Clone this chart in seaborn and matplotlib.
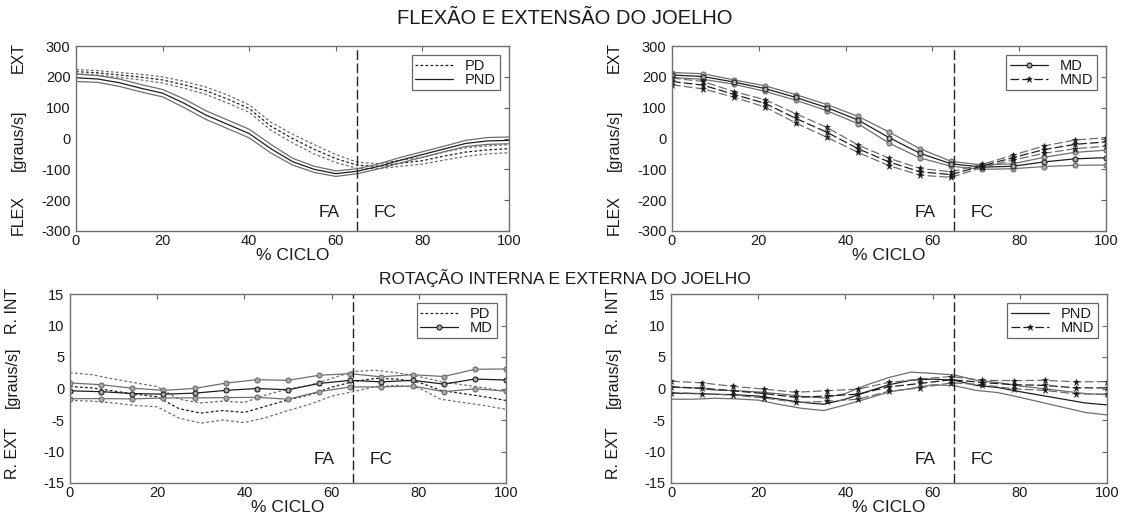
import numpy as np
import matplotlib
matplotlib.use("Agg")
import matplotlib.pyplot as plt
import matplotlib.transforms as mtransforms
from matplotlib.lines import Line2D
import seaborn as sns

# ---------------------------------------------------------------------------
# Data: knee angular velocity over the gait cycle (mean and standard deviation)
# ---------------------------------------------------------------------------
cycle_5 = [0, 5, 10, 15, 20, 25, 30, 35, 40, 45, 50,
           55, 60, 65, 70, 75, 80, 85, 90, 95, 100]
cycle_mk = [0, 7.14, 14.29, 21.43, 28.57, 35.71, 42.86, 50,
            57.14, 64.29, 71.43, 78.57, 85.71, 92.86, 100]

# Flexion / extension (graus/s)
fe_pd_mean = [217, 213, 206, 199, 190, 174, 155, 128, 97, 40, 0,
              -35, -65, -87, -90, -80, -72, -57, -44, -37, -33]
fe_pd_sd = [7, 7, 8, 9, 10, 11, 12, 13, 12, 13, 14,
            15, 13, 10, 8, 10, 11, 13, 14, 13, 13]
fe_pnd_mean = [197, 193, 181, 163, 147, 114, 76, 46, 16, -33, -75,
               -100, -114, -106, -90, -70, -52, -34, -16, -8, -6]
fe_pnd_sd = [12, 11, 12, 12, 12, 14, 14, 14, 14, 14, 11,
             10, 9, 8, 8, 9, 9, 9, 10, 11, 11]
fe_md_mean = [206, 201, 183, 162, 133, 100, 60, 3, -48, -82, -93, -90, -76, -66, -62]
fe_md_sd = [8, 9, 7, 9, 9, 10, 12, 18, 15, 8, 7, 8, 15, 21, 24]
fe_mnd_mean = [185, 173, 143, 114, 65, 20, -33, -76, -108, -117, -89, -62, -36, -19, -11]
fe_mnd_sd = [11, 12, 9, 12, 15, 16, 12, 12, 11, 9, 5, 8, 12, 14, 14]

# Internal / external rotation (graus/s)
rot_pd_mean = [0.3, 0.1, -0.4, -0.9, -1.3, -3.2, -3.9, -3.5, -3.8, -2.8, -1.8,
               -1.0, 0.2, 1.1, 1.6, 1.5, 1.0, -0.3, -0.8, -1.3, -1.9]
rot_pd_sd = [2.2, 2.1, 1.9, 1.8, 1.6, 1.5, 1.6, 1.5, 1.6, 1.8, 1.7,
             1.5, 1.4, 1.6, 1.3, 1.0, 0.9, 1.4, 1.4, 1.4, 1.4]
rot_md_mean = [-0.37, -0.5, -0.8, -0.9, -0.74, -0.3, 0.0, -0.2,
               0.8, 1.3, 1.05, 1.3, 0.7, 1.5, 1.35]
rot_md_sd = [1.25, 1.1, 0.85, 0.6, 0.75, 1.15, 1.4, 1.5,
             1.3, 1.05, 0.8, 0.9, 1.2, 1.55, 1.75]
rot_pnd_mean = [-0.75, -0.8, -0.9, -1.0, -1.2, -1.7, -2.2, -2.5, -1.7, -0.5, 0.6,
                1.3, 1.5, 1.3, 0.5, 0.15, -0.5, -1.1, -1.7, -2.3, -2.6]
rot_pnd_sd = [0.95, 0.9, 0.65, 0.65, 0.65, 0.85, 0.95, 1.0, 0.9, 1.1, 1.15,
              1.3, 0.9, 0.85, 0.8, 0.8, 0.9, 1.1, 1.3, 1.5, 1.6]
rot_mnd_mean = [0.26, 0.05, -0.37, -0.8, -1.4, -1.2, -0.9, 0.26,
                0.8, 1.4, 0.95, 0.6, 0.5, 0.1, 0.1]
rot_mnd_sd = [0.9, 0.85, 0.7, 0.7, 0.8, 0.85, 0.8, 0.7,
              0.7, 0.5, 0.35, 0.65, 0.8, 0.95, 1.0]

x_ticks = [0, 20, 40, 60, 80, 100]
fe_ticks = [-300, -200, -100, 0, 100, 200, 300]
rot_ticks = [-15, -10, -5, 0, 5, 10, 15]
phase_split = 65
phase_labels = ["FA", "FC"]

title_fe = "FLEXÃO E EXTENSÃO DO JOELHO"
title_rot = "ROTAÇÃO INTERNA E EXTERNA DO JOELHO"
x_label = "% CICLO"
unit_label = "[graus/s]"

# ---------------------------------------------------------------------------
# Style
# ---------------------------------------------------------------------------
sns.set_theme(style="white")
plt.rcParams["font.family"] = ["Liberation Sans", "DejaVu Sans"]
plt.rcParams["axes.unicode_minus"] = False
plt.rcParams["axes.edgecolor"] = "#707070"
plt.rcParams["axes.linewidth"] = 1.0
plt.rcParams["xtick.direction"] = "in"
plt.rcParams["ytick.direction"] = "in"
plt.rcParams["xtick.color"] = "#606060"
plt.rcParams["ytick.color"] = "#606060"

TXT = "#1a1a1a"
DARK = "#1e1e1e"
GREY = "#6e6e6e"

STYLES = {
    "PD": dict(linestyle=(0, (2.2, 1.8)), marker=None),
    "PND": dict(linestyle="-", marker=None),
    "MD": dict(linestyle="-", marker="o", markersize=3.6,
               markerfacecolor="#a8a8a8", markeredgewidth=0.8),
    "MND": dict(linestyle=(0, (7, 2.5)), marker="*", markersize=5.0,
                markerfacecolor="#111111", markeredgewidth=0.4),
}


def draw_group(ax, x, mean, sd, name):
    """Mean curve with the +/- one standard deviation curves."""
    m = np.asarray(mean, dtype=float)
    s = np.asarray(sd, dtype=float)
    st = dict(STYLES[name])
    for y, col in ((m + s, GREY), (m - s, GREY), (m, DARK)):
        kw = dict(st)
        if kw.get("marker") is None:
            kw = {k: v for k, v in kw.items() if not k.startswith("marker")}
        else:
            kw["markeredgecolor"] = col if name == "MD" else DARK
        sns.lineplot(x=x, y=y, ax=ax, color=col, linewidth=0.9,
                     estimator=None, sort=False, legend=False, **kw)


def legend_handle(name):
    st = dict(STYLES[name])
    if st.get("marker") is None:
        st = {k: v for k, v in st.items() if not k.startswith("marker")}
    else:
        st["markeredgecolor"] = DARK
    return Line2D([], [], color=DARK, linewidth=0.9, **st)


def decorate(ax, ylim, yticks, top_txt, bottom_txt, mid_y, top_y, bot_y,
             phase_y, legend_names):
    ax.set_xlim(0, 100)
    ax.set_ylim(*ylim)
    ax.set_xticks(x_ticks)
    ax.set_yticks(yticks)
    ax.tick_params(axis="both", which="both", top=True, right=True,
                   length=3.5, width=0.8, labelsize=10.5, labelcolor=TXT)
    ax.tick_params(axis="y", pad=4)
    ax.tick_params(axis="x", pad=2)
    ax.set_xlabel(x_label, fontsize=12.5, color=TXT, labelpad=0)
    ax.set_ylabel("")
    ax.axvline(phase_split, color="#222222", linewidth=1.0,
               linestyle=(0, (7, 2.5)))
    ax.text(58.4, phase_y, phase_labels[0], ha="center", va="center",
            fontsize=12.5, color=TXT)
    ax.text(71.4, phase_y, phase_labels[1], ha="center", va="center",
            fontsize=12.5, color=TXT)
    tr = mtransforms.blended_transform_factory(ax.transAxes, ax.transData)
    for txt, yy in ((top_txt, top_y), (unit_label, mid_y), (bottom_txt, bot_y)):
        ax.text(-0.133, yy, txt, rotation=90, ha="center", va="center",
                fontsize=11.5, color=TXT, transform=tr)
    leg = ax.legend([legend_handle(n) for n in legend_names], legend_names,
                    loc="upper right", fontsize=10.5, frameon=True,
                    fancybox=False, handlelength=2.6, handletextpad=0.8,
                    borderpad=0.25, labelspacing=0.0,
                    borderaxespad=0.5, bbox_to_anchor=(0.995, 0.99))
    leg.get_frame().set_edgecolor("#404040")
    leg.get_frame().set_linewidth(0.9)
    for t in leg.get_texts():
        t.set_color(TXT)


fig = plt.figure(figsize=(11.28, 5.15), dpi=100)
W, H = 1128.0, 515.0


def add_axes(l, r, t, b):
    return fig.add_axes([l / W, 1 - b / H, (r - l) / W, (b - t) / H])


ax_fe_l = add_axes(76, 509, 46, 231)
ax_fe_r = add_axes(672, 1106, 46, 231)
ax_rot_l = add_axes(70, 506, 294, 483)
ax_rot_r = add_axes(671, 1107, 294, 483)

# Flexion / extension
draw_group(ax_fe_l, cycle_5, fe_pd_mean, fe_pd_sd, "PD")
draw_group(ax_fe_l, cycle_5, fe_pnd_mean, fe_pnd_sd, "PND")
draw_group(ax_fe_r, cycle_mk, fe_md_mean, fe_md_sd, "MD")
draw_group(ax_fe_r, cycle_mk, fe_mnd_mean, fe_mnd_sd, "MND")

# Rotation
draw_group(ax_rot_l, cycle_5, rot_pd_mean, rot_pd_sd, "PD")
draw_group(ax_rot_l, cycle_mk, rot_md_mean, rot_md_sd, "MD")
draw_group(ax_rot_r, cycle_5, rot_pnd_mean, rot_pnd_sd, "PND")
draw_group(ax_rot_r, cycle_mk, rot_mnd_mean, rot_mnd_sd, "MND")

for ax, names in ((ax_fe_l, ["PD", "PND"]), (ax_fe_r, ["MD", "MND"])):
    decorate(ax, (-300, 300), fe_ticks, "EXT", "FLEX", -5, 262, -248, -240, names)
for ax, names in ((ax_rot_l, ["PD", "MD"]), (ax_rot_r, ["PND", "MND"])):
    decorate(ax, (-15, 15), rot_ticks, "R. INT", "R. EXT", 1.8, 12.3, -10.3,
             -11.3, names)

fig.text(565 / W, 1 - 18 / H, title_fe, ha="center", va="center",
         fontsize=14.5, color=TXT)
fig.text(565 / W, 1 - 278 / H, title_rot, ha="center", va="center",
         fontsize=12.5, color=TXT)

fig.savefig("out.png", dpi=100, facecolor="white")
